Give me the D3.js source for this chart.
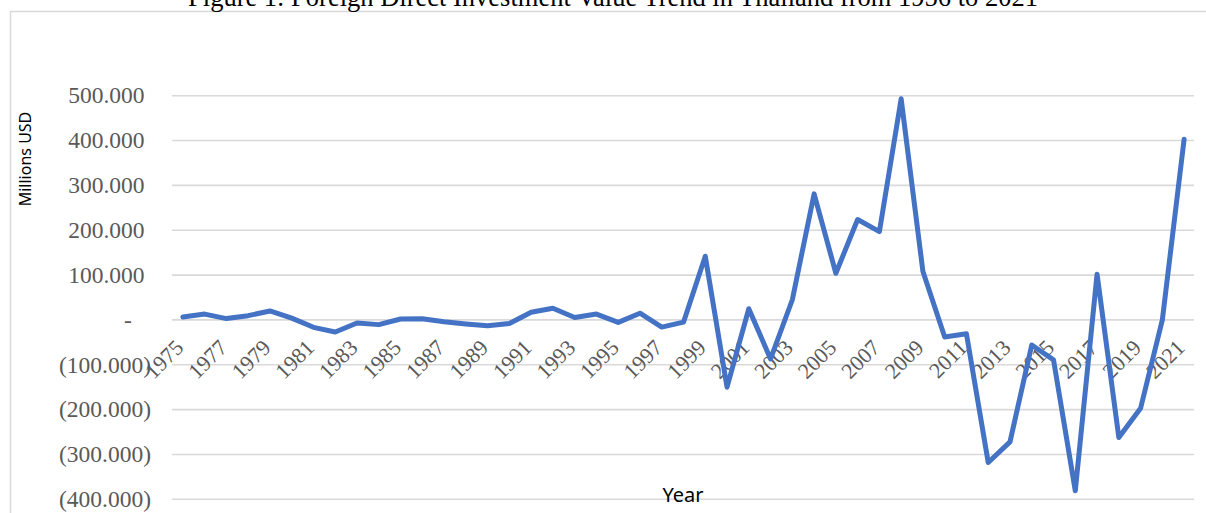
<!DOCTYPE html>
<html>
<head>
<meta charset="utf-8">
<script src="https://cdn.jsdelivr.net/npm/d3@7"></script>
<style>
  html, body { margin: 0; padding: 0; background: #fff; }
  svg { display: block; }
</style>
</head>
<body>
<svg id="chart" width="1206" height="513"></svg>
<script>
// Annual FDI values, 1975–2021 (Millions USD)
const years = [
  1975, 1976, 1977, 1978, 1979, 1980, 1981, 1982, 1983, 1984,
  1985, 1986, 1987, 1988, 1989, 1990, 1991, 1992, 1993, 1994,
  1995, 1996, 1997, 1998, 1999, 2000, 2001, 2002, 2003, 2004,
  2005, 2006, 2007, 2008, 2009, 2010, 2011, 2012, 2013, 2014,
  2015, 2016, 2017, 2018, 2019, 2020, 2021
];
const fdiValues = [
  6.5, 13, 3, 9.5, 20, 4, -16.5, -27, -7, -10.5,
  2, 2.5, -4, -9, -13, -8, 17, 26, 5.5, 13,
  -5.5, 15, -16, -5, 142, -150, 25, -87, 45, 281,
  104, 224, 197, 493, 108, -38, -31, -318, -272, -56,
  -89, -381, 102, -262, -197, 0, 403
];
const yTicks = [-400, -300, -200, -100, 0, 100, 200, 300, 400, 500];
const xTickLabels = years.filter((y, i) => i % 2 === 0);

const titleText = "Figure 1: Foreign Direct Investment Value Trend in Thailand from 1956 to 2021";
const yTitle = "Millions USD";
const xTitle = "Year";

const svg = d3.select("#chart");
const serif = "'Liberation Serif', 'Times New Roman', serif";
const sans = "'Noto Sans', 'Open Sans', sans-serif";

// Chart frame (extends past the right and bottom edges)
svg.append("rect")
  .attr("x", 10.5).attr("y", 11.5)
  .attr("width", 1300).attr("height", 600)
  .attr("fill", "#fff")
  .attr("stroke", "#d9d9d9").attr("stroke-width", 1.5);

// Title
svg.append("text")
  .attr("x", 613).attr("y", 6)
  .attr("text-anchor", "middle")
  .attr("font-family", serif).attr("font-size", 26.5)
  .attr("fill", "#000")
  .text(titleText);

const x = d3.scaleBand().domain(years).range([172, 1195]);
const y = d3.scaleLinear().domain([-400, 500]).range([499.3, 95.7]);

// Horizontal gridlines
svg.append("g")
  .selectAll("line")
  .data(yTicks)
  .join("line")
  .attr("x1", 172).attr("x2", 1194)
  .attr("y1", d => y(d)).attr("y2", d => y(d))
  .attr("stroke", "#d9d9d9").attr("stroke-width", 1.6);

// Y-axis tick labels, accounting style
const num = d3.format(",.3f");
const yLab = svg.append("g")
  .attr("font-family", serif).attr("font-size", 23.5).attr("fill", "#595959");
yLab.selectAll("text")
  .data(yTicks)
  .join("text")
  .attr("x", d => d < 0 ? 151 : (d === 0 ? 128 : 144.5))
  .attr("y", d => y(d))
  .attr("dy", "0.33em")
  .attr("text-anchor", d => d === 0 ? "middle" : "end")
  .text(d => d === 0 ? "-" : (d < 0 ? "(" + num(-d) + ")" : num(d)));

// X-axis labels, rotated, sitting under the zero line
const xLab = svg.append("g")
  .attr("font-family", serif).attr("font-size", 22).attr("fill", "#595959");
xLab.selectAll("text")
  .data(xTickLabels)
  .join("text")
  .attr("text-anchor", "end")
  .attr("transform", d => `translate(${x(d) + x.bandwidth() / 2 + 2},${y(0) + 29}) rotate(-45)`)
  .text(d => d);

// FDI line
const line = d3.line()
  .x((d, i) => x(years[i]) + x.bandwidth() / 2)
  .y(d => y(d));

svg.append("path")
  .datum(fdiValues)
  .attr("d", line)
  .attr("fill", "none")
  .attr("stroke", "#4472c4")
  .attr("stroke-width", 5)
  .attr("stroke-linejoin", "round")
  .attr("stroke-linecap", "round");

// Axis titles
svg.append("text")
  .attr("transform", "translate(31,159) rotate(-90)")
  .attr("text-anchor", "middle")
  .attr("font-family", sans).attr("font-size", 16)
  .attr("fill", "#000")
  .text(yTitle);

svg.append("text")
  .attr("x", 683).attr("y", 502)
  .attr("text-anchor", "middle")
  .attr("font-family", sans).attr("font-size", 20)
  .attr("fill", "#000")
  .text(xTitle);
</script>
</body>
</html>
